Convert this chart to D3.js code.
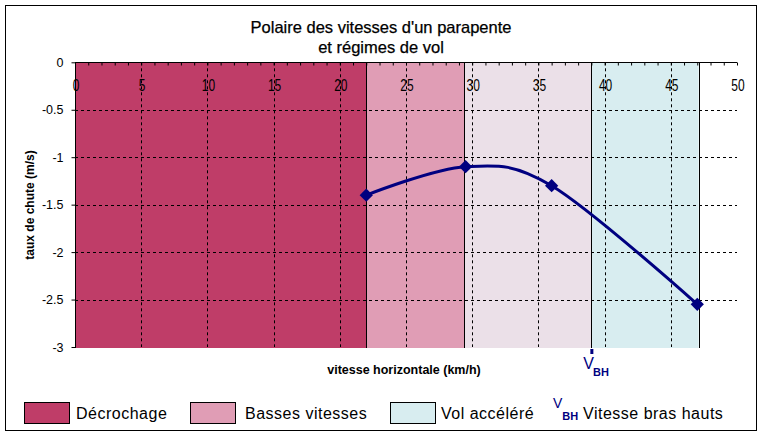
<!DOCTYPE html>
<html><head><meta charset="utf-8">
<script src="https://cdn.jsdelivr.net/npm/d3@7"></script>
<style>
body{margin:0;background:#fff;}
svg{display:block;font-family:"Liberation Sans",Arial,sans-serif;}
</style></head>
<body><svg id="c" width="763" height="437"></svg>
<script>
// ---- data ----
const titleLines = ["Polaire des vitesses d'un parapente", "et régimes de vol"];
const xTickValues = [0,5,10,15,20,25,30,35,40,45,50];
const yTickValues = [0,-0.5,-1,-1.5,-2,-2.5,-3];
const yTickLabels = ["0","-0.5","-1","-1.5","-2","-2.5","-3"];
const speeds = [22, 29.5, 36, 47];
const sinkRates = [-1.4, -1.1, -1.3, -2.55];
const bandBounds = [0, 22, 29.4, 39, 47.1];
const bandNames = ["Décrochage", "Basses vitesses", "Vitesse min. de chute", "Vol accéléré"];
const vbh = 39;
const legendItems = ["Décrochage", "Basses vitesses", "Vol accéléré"];

// ---- styles ----
const bandColors = ["#bf3d68", "#e09db5", "#ebe0e8", "#d8edf0"];
const legendColors = ["#bf3d68", "#e09db5", "#d8edf0"];
const navy = "#000080";

const svg = d3.select("#c");
const x = d3.scaleLinear().domain([0,50]).range([75,737]);
const y = d3.scaleLinear().domain([-3,0]).range([347,62.3]);

// outer border
svg.append("rect").attr("x",5.5).attr("y",5.5).attr("width",751).attr("height",425)
  .attr("fill","none").attr("stroke","#000").attr("stroke-width",1);

// title
svg.selectAll("text.title").data(titleLines).join("text")
  .attr("x",381).attr("y",(d,i)=>33+i*20).attr("text-anchor","middle")
  .attr("font-size",16.5).attr("stroke","#000").attr("stroke-width",0.25).text(d=>d);

// bands
const bands = bandNames.map((n,i)=>({name:n,x0:bandBounds[i],x1:bandBounds[i+1]}));
svg.append("g").selectAll("rect").data(bands).join("rect")
  .attr("x",d=>x(d.x0)).attr("width",d=>x(d.x1)-x(d.x0))
  .attr("y",y(0)).attr("height",y(-3)-y(0)+1)
  .attr("fill",(d,i)=>bandColors[i]);

// dashed grid
const g = svg.append("g").attr("stroke","#000").attr("stroke-dasharray","3,3").attr("stroke-width",1);
g.selectAll("line.v").data(xTickValues.filter(v=>v>0&&v<50)).join("line")
  .attr("x1",d=>Math.round(x(d))+0.5).attr("x2",d=>Math.round(x(d))+0.5)
  .attr("y1",y(0)).attr("y2",y(-3));
g.selectAll("line.h").data(yTickValues.filter(v=>v<0&&v>-3)).join("line")
  .attr("y1",d=>Math.round(y(d))+0.5).attr("y2",d=>Math.round(y(d))+0.5)
  .attr("x1",x(0)).attr("x2",x(50));

// band boundary lines
svg.append("g").selectAll("line").data(bandBounds.slice(1)).join("line")
  .attr("x1",d=>Math.round(x(d))+0.5).attr("x2",d=>Math.round(x(d))+0.5)
  .attr("y1",y(0)).attr("y2",y(-3)+1).attr("stroke","#000");

// top x axis
const xAxis = d3.axisBottom(x).tickValues(d3.range(0,51,1)).tickSize(3).tickFormat("");
const xa = svg.append("g").attr("transform",`translate(0,${Math.round(y(0))+0.5})`).call(xAxis);
xa.select(".domain").attr("d",`M${x(0)},0H${x(50)}`).attr("stroke","#000");
xa.selectAll(".tick line").attr("stroke","#000");
svg.append("g").selectAll("text").data(xTickValues).join("text")
  .attr("transform",d=>`translate(${x(d)+1},91) scale(1,1.3)`)
  .attr("text-anchor","middle").attr("font-size",12).text(d=>d);

// left y axis
const yAxis = d3.axisLeft(y).tickValues(yTickValues).tickSize(4).tickFormat((d,i)=>yTickLabels[i]);
const ya = svg.append("g").attr("transform",`translate(${x(0)+0.5},0)`).call(yAxis);
ya.select(".domain").attr("d",`M0,${y(0)}V${y(-3)+1}`).attr("stroke","#000");
ya.selectAll(".tick line").attr("stroke","#000");
ya.selectAll(".tick text").attr("font-size",12.5).attr("font-family","Liberation Sans, Arial, sans-serif")
  .attr("fill","#000").attr("x",-12).attr("dy","0.33em");

// axis titles
svg.append("text").attr("transform","translate(34,205) rotate(-90)")
  .attr("text-anchor","middle").attr("font-size",12).attr("font-weight","bold")
  .text("taux de chute (m/s)");
svg.append("text").attr("x",404).attr("y",374).attr("text-anchor","middle")
  .attr("font-size",12.5).attr("font-weight","bold").text("vitesse horizontale (km/h)");

// curve
const pts = speeds.map((s,i)=>[s,sinkRates[i]]);
const line = d3.line().x(d=>x(d[0])).y(d=>y(d[1])).curve(d3.curveCardinal.tension(0));
svg.append("path").attr("d",line(pts)).attr("fill","none").attr("stroke",navy).attr("stroke-width",3);
svg.append("g").selectAll("path").data(pts).join("path")
  .attr("d",d3.symbol(d3.symbolSquare,88)())
  .attr("transform",d=>`translate(${x(d[0])},${y(d[1])}) rotate(45)`)
  .attr("fill",navy);

// VBH marker
svg.append("rect").attr("x",x(vbh)-1).attr("y",y(-3)+2).attr("width",3).attr("height",5).attr("fill",navy);
const vt = svg.append("text").attr("x",x(vbh)-8).attr("y",369).attr("fill",navy);
vt.append("tspan").attr("font-size",16).text("V");
vt.append("tspan").attr("font-size",11).attr("font-weight","bold").attr("dy",7).attr("dx",-1).text("BH");

// legend
const lx = [24,190,390];
const tx = [76,245,441];
const lg = svg.append("g");
legendItems.forEach((n,i)=>{
  lg.append("rect").attr("x",lx[i]+0.5).attr("y",402.5).attr("width",45).attr("height",21)
    .attr("fill",legendColors[i]).attr("stroke","#000");
  lg.append("text").attr("x",tx[i]).attr("y",419).attr("font-size",16).attr("letter-spacing",0.5).text(n);
});
const lv = lg.append("text").attr("x",553).attr("y",408).attr("fill",navy);
lv.append("tspan").attr("font-size",14).text("V");
lv.append("tspan").attr("font-size",11).attr("font-weight","bold").attr("dy",12).attr("dx",0).text("BH");
lg.append("text").attr("x",583).attr("y",419).attr("font-size",16).attr("letter-spacing",0.5).text("Vitesse bras hauts");
</script></body></html>
